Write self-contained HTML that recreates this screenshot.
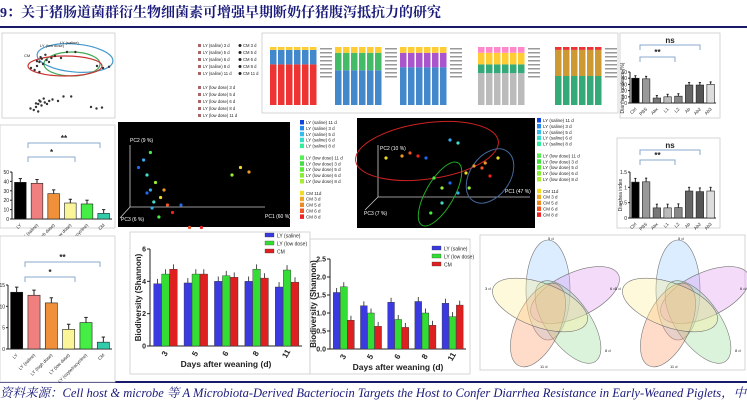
<!DOCTYPE html>
<html><head><meta charset="utf-8"><style>
body{margin:0;background:#fff;width:747px;height:405px;overflow:hidden;font-family:"Liberation Sans","Noto Sans CJK SC",sans-serif}
svg{display:block}
</style></head><body>
<svg id="s" width="747" height="405" viewBox="0 0 747 405" xmlns="http://www.w3.org/2000/svg">
<text x="0" y="17" font-family="'Liberation Serif','Noto Serif CJK SC',serif" font-weight="bold" font-size="14" fill="#1a1a7a">9：关于猪肠道菌群衍生物细菌素可增强早期断奶仔猪腹泻抵抗力的研究</text>
<rect x="0" y="26" width="747" height="2" fill="#1a1a6a"/>
<rect x="0" y="381" width="747" height="2" fill="#1a1a6a"/>
<text x="0" y="397" font-family="'Liberation Serif','Noto Serif CJK SC',serif" font-style="italic" font-size="12.5" fill="#1a1a7a">资料来源：Cell host &amp; microbe 等 A Microbiota-Derived Bacteriocin Targets the Host to Confer Diarrhea Resistance in Early-Weaned Piglets，中</text>
<g id="panels"></g>
</svg>
<script>
// ---- data ----
const days=['3','5','6','8','11'];
const shannonA_saline=[3.85,3.9,4.0,4.0,3.65];
const shannonA_low=[4.45,4.45,4.35,4.75,4.7];
const shannonA_cm=[4.75,4.45,4.25,4.2,3.95];
const shannonA_ticks=[0,2,4,6];
const shannonB_saline=[1.57,1.2,1.3,1.32,1.27];
const shannonB_low=[1.73,1.0,0.82,1.0,0.9];
const shannonB_cm=[0.8,0.63,0.6,0.66,1.22];
const shannonB_ticks=['0.0','0.5','1.0','1.5','2.0','2.5'];
const groupMid=['LY','LY (saline)','LY (high dose)','LY (low dose)','LY (oxytetracycline)','CM'];
const barsMid=[39,38,27,17,16,6];
const barsMidTicks=[0,10,20,30,40,50];
const barsBot=[13.3,12.6,10.8,4.6,6.2,1.6];
const barsBotTicks=[0,5,10,15];
const groupDi=['Ctrl','PBS','Abx','L1','L2','Ab','Ab2','Ab3'];
const incidence=[40,39,8,10,11,29,29,30];
const incidenceTicks=[0,10,20,30,40,50];
const diIndex=[1.17,1.18,0.33,0.33,0.34,0.88,0.86,0.88];
const diIndexTicks=[0,0.5,1.0,1.5];
const pcaX=[0.05,0.08,0.1,0.12,0.15,0.18,0.2,0.22,0.25,0.3,0.12,0.14,0.17,0.6,0.65,0.7,0.35,0.42,0.1,0.13];
const pcaY=[0.45,0.5,0.4,0.55,0.35,0.25,0.3,0.2,0.15,0.2,0.3,0.22,0.12,0.4,0.45,0.42,0.05,0.05,0.28,0.18];
const pca2X=[0.1,0.2,0.25,0.3,0.35,0.5,0.55,0.4,0.45,0.6,0.65,0.7,0.75,0.5,0.55,0.45,0.38,0.62,0.8,0.72];
const pca2Y=[0.7,0.72,0.75,0.72,0.7,0.88,0.85,0.5,0.4,0.55,0.62,0.6,0.52,0.45,0.35,0.25,0.15,0.4,0.7,0.65];

const NS='http://www.w3.org/2000/svg';
const root=document.getElementById('panels');
function el(t,a,p){const e=document.createElementNS(NS,t);for(const k in a)e.setAttribute(k,a[k]);(p||root).appendChild(e);return e;}
function tx(x,y,s,size,a,p){const e=el('text',Object.assign({x:x,y:y,'font-size':size,fill:'#222'},a||{}),p);e.textContent=s;return e;}
function box(x,y,w,h,name){const r=el('rect',{x:x,y:y,width:w,height:h,fill:'#fff',stroke:'#ccc','stroke-width':0.8});return r;}

// ---- grouped shannon chart ----
function grouped(x0,x1,yTop,yBase,max,ticks,series,cols,name,ylabX){
  const g=el('g',{});
  const ys=v=>yBase-(v/max)*(yBase-yTop);
  el('line',{x1:x0,y1:yTop,x2:x0,y2:yBase,stroke:'#222','stroke-width':1},g);
  el('line',{x1:x0,y1:yBase,x2:x1,y2:yBase,stroke:'#222','stroke-width':1},g);
  ticks.forEach(t=>{const v=parseFloat(t);el('line',{x1:x0-3,y1:ys(v),x2:x0,y2:ys(v),stroke:'#222'},g);
    const l=tx(x0-4,ys(v)+2.5,String(t),7,{'text-anchor':'end','font-weight':'bold'},g);});
  const gw=(x1-x0)/days.length, bw=gw/4;
  days.forEach((d,i)=>{
    series.forEach((s,j)=>{const bx=x0+i*gw+gw*0.12+j*bw*1.05;const y=ys(s[i]);
      const b=el('rect',{x:bx,y:y,width:bw,height:yBase-y,fill:cols[j],stroke:'#333','stroke-width':0.4},g);
      
      el('line',{x1:bx+bw/2,y1:y,x2:bx+bw/2,y2:y-(yBase-yTop)*0.05,stroke:'#222','stroke-width':0.8},g);});
    const cx=x0+i*gw+gw*0.5;
    const l=tx(cx,yBase+10,d,8,{'text-anchor':'middle','font-weight':'bold',transform:`rotate(-60 ${cx} ${yBase+8})`},g);
    
  });
  const yl=tx(ylabX,(yTop+yBase)/2,'Biodiversity (Shannon)',8,{'text-anchor':'middle','font-weight':'bold',transform:`rotate(-90 ${ylabX} ${(yTop+yBase)/2})`},g);
  
  const xl=tx((x0+x1)/2,yBase+21,'Days after weaning (d)',8.5,{'text-anchor':'middle','font-weight':'bold'},g);
  
}
const C3=['#3a3ae0','#33dd33','#e02020'];
box(130,232,180,142,'shannon-panel-a');
grouped(150,302,249,346,6,shannonA_ticks,[shannonA_saline,shannonA_low,shannonA_cm],C3,'shannon-chart-a',141);
box(310,239,160,135,'shannon-panel-b');
grouped(330,466,259,349,2.5,shannonB_ticks,[shannonB_saline,shannonB_low,shannonB_cm],C3,'shannon-chart-b',316);
function legend(x,y,labels,cols,name){const g=el('g',{});
  labels.forEach((l,i)=>{el('rect',{x:x,y:y+i*8,width:9,height:4,fill:cols[i],stroke:'#333','stroke-width':0.3},g);
    const t=tx(x+12,y+i*8+4.5,l,5,{},g);});}
legend(265,233,['LY (saline)','LY (low dose)','CM'],C3,'shannon-legend-a');
legend(432,246,['LY (saline)','LY (low dose)','CM'],C3,'shannon-legend-b');

// ---- simple bar chart ----
function simple(x0,x1,yTop,yBase,max,ticks,vals,cols,name,labels,bracket){
  const g=el('g',{});
  const ys=v=>yBase-(v/max)*(yBase-yTop);
  el('line',{x1:x0,y1:yTop,x2:x0,y2:yBase,stroke:'#222'},g);
  el('line',{x1:x0,y1:yBase,x2:x1,y2:yBase,stroke:'#222'},g);
  ticks.forEach(t=>{el('line',{x1:x0-2,y1:ys(t),x2:x0,y2:ys(t),stroke:'#222'},g);
    const l=tx(x0-3,ys(t)+2,String(t),5,{'text-anchor':'end'},g);});
  const gw=(x1-x0)/vals.length;
  vals.forEach((v,i)=>{const bx=x0+i*gw+gw*0.15,y=ys(v);
    const b=el('rect',{x:bx,y:y,width:gw*0.7,height:yBase-y,fill:cols[i],stroke:'#222','stroke-width':0.6},g);
    
    el('line',{x1:bx+gw*0.35,y1:y,x2:bx+gw*0.35,y2:y-(yBase-yTop)*0.08,stroke:'#222'},g);
    el('line',{x1:bx+gw*0.25,y1:y-(yBase-yTop)*0.08,x2:bx+gw*0.45,y2:y-(yBase-yTop)*0.08,stroke:'#222'},g);
    const cx=bx+gw*0.35;const t=tx(cx,yBase+7,labels[i],4.5,{'text-anchor':'end',transform:`rotate(-45 ${cx} ${yBase+5})`},g);
    });
  if(bracket){bracket.forEach(b=>{el('path',{d:`M${b[0]} ${b[3]+5} V${b[3]} H${b[1]} V${b[3]+5}`,fill:'none',stroke:'#88aacc','stroke-width':1},g);
    tx((b[0]+b[1])/2,b[3]-2,b[2],8,{'text-anchor':'middle','font-weight':'bold'},g);});}
}
const C6=['#000','#f08080','#f0903a','#fbf59a','#44ee44','#33ccaa'];
box(0,125,115,103,'protection-panel');
simple(12,112,172,219,50,barsMidTicks,barsMid,C6,'protection-bars',groupMid,[[28,100,'**',143],[28,75,'*',157]]);
box(0,236,115,146,'protection-panel-2');
simple(8,112,285,349,15,barsBotTicks,barsBot,C6,'protection-bars-2',groupMid,[[25,100,'**',262],[25,75,'*',277]]);
const C8=['#000','#999','#777','#bbb','#888','#666','#555','#ddd'];
box(620,33,100,85,'incidence-panel');
simple(630,716,72,103,50,incidenceTicks,incidence,C8,'diarrhea-incidence-bars',groupDi,[[640,700,'ns',45],[640,675,'**',57]]);
tx(624,88,'Diarrhea incidence (%)',5,{'text-anchor':'middle',transform:'rotate(-90 624 88)'});
box(617,138,103,90,'diarrhea-index-panel');
simple(630,716,172,218,1.5,diIndexTicks,diIndex,C8,'diarrhea-index-bars',groupDi,[[640,700,'ns',150],[640,675,'**',160]]);
tx(622,195,'Diarrhea index',5,{'text-anchor':'middle',transform:'rotate(-90 622 195)'});

// ---- black PCA panels ----
const pcaCols=['#2266ee','#33aaee','#44ddcc','#44ee44','#99ee33','#eedd22','#ee9922','#ee5522','#ee2222'];
el('rect',{x:118,y:122,width:172,height:105,fill:'#000'});
el('path',{d:'M130 145 V207 H265 M130 207 L120 218',stroke:'#ccc',fill:'none','stroke-width':0.8});
tx(130,142,'PC2 (9 %)',5,{fill:'#fff'});tx(265,218,'PC1 (60 %)',5,{fill:'#fff'});tx(121,221,'PC3 (6 %)',5,{fill:'#fff'});
pcaX.forEach((x,i)=>{const c=el('circle',{cx:130+x*170,cy:205-pcaY[i]*150+30,r:1.6,fill:pcaCols[i%9]});});
el('rect',{x:357,y:118,width:178,height:110,fill:'#000'});
el('path',{d:'M378 145 V197 H530 M378 197 L365 210',stroke:'#ccc',fill:'none','stroke-width':0.8});
tx(380,150,'PC2 (10 %)',5,{fill:'#fff'});tx(505,193,'PC1 (47 %)',5,{fill:'#fff'});tx(364,215,'PC3 (7 %)',5,{fill:'#fff'});
el('ellipse',{cx:427,cy:151,rx:72,ry:28,fill:'none',stroke:'#c22',transform:'rotate(-8 427 151)'});
el('ellipse',{cx:440,cy:194,rx:14,ry:36,fill:'none',stroke:'#2a2',transform:'rotate(30 440 194)'});
el('ellipse',{cx:490,cy:176,rx:20,ry:30,fill:'none',stroke:'#469',transform:'rotate(35 490 176)'});
pca2X.forEach((x,i)=>{const c=el('circle',{cx:370+x*160,cy:228-pca2Y[i]*100,r:1.6,fill:pcaCols[(i+5)%9]});});
const legLabels=['LY (saline) 11 d','LY (saline) 3 d','LY (saline) 5 d','LY (saline) 6 d','LY (saline) 8 d','','LY (low dose) 11 d','LY (low dose) 3 d','LY (low dose) 5 d','LY (low dose) 6 d','LY (low dose) 8 d','','CM 11d','CM 3 d','CM 5 d','CM 6 d','CM 8 d'];
const legCols=['#1144dd','#2288ee','#33bbee','#33ddcc','#33ee99','','#55ee55','#44dd44','#55ee33','#88ee33','#aaee33','','#eedd22','#eeaa22','#ee8822','#ee5522','#ee2222'];
[[300,120],[537,118]].forEach(p=>{legLabels.forEach((l,i)=>{if(!l)return;el('rect',{x:p[0],y:p[1]+i*5.9,width:4,height:4.5,fill:legCols[i]});
  const t=tx(p[0]+6,p[1]+i*5.9+4,l,4.5);});});

// ---- top PCA panel ----
box(2,33,113,85,'pca-2d-panel');
el('ellipse',{cx:75,cy:58,rx:38,ry:14,fill:'none',stroke:'#4499cc','stroke-width':1.2,transform:'rotate(5 75 58)'});
el('ellipse',{cx:72,cy:64,rx:28,ry:12,fill:'none',stroke:'#44aa55','stroke-width':1.2});
el('ellipse',{cx:65,cy:66,rx:37,ry:10,fill:'none',stroke:'#cc3333','stroke-width':1.2});
pcaX.forEach((x,i)=>{el('circle',{cx:25+x*120,cy:50+pcaY[i]*40,r:1.2,fill:'#333'});el('circle',{cx:25+x*110,cy:95+pcaY[i]*30,r:1.2,fill:'#333'});});
tx(60,44,'LY (saline)',4,{});tx(40,47,'LY (low dose)',4,{});tx(24,57,'CM',4,{});
const topLeg=['LY (saline) 3 d','LY (saline) 5 d','LY (saline) 6 d','LY (saline) 8 d','LY (saline) 11 d','','LY (low dose) 3 d','LY (low dose) 5 d','LY (low dose) 6 d','LY (low dose) 8 d','LY (low dose) 11 d'];
topLeg.forEach((l,i)=>{if(!l)return;el('rect',{x:198,y:44+i*7,width:3,height:3,fill:'#a66'});tx(203,47+i*7,l,4.2);});
['CM 3 d','CM 5 d','CM 6 d','CM 8 d','CM 11 d'].forEach((l,i)=>{el('circle',{cx:240,cy:45.5+i*7,r:1.5,fill:'#222'});tx(243,47+i*7,l,4.2);});

// ---- stacked bars panel ----
box(262,33,356,80,'composition-panel');
const stackSets=[[['#e33','#48c','#fc3'],[0.7,0.25,0.05]],[['#48c','#4b6','#fc3'],[0.6,0.3,0.1]],[['#48c','#a5c','#fc3'],[0.65,0.25,0.1]],[['#bbb','#3a7','#fc3','#f8c'],[0.55,0.15,0.2,0.1]],[['#3a7','#c93','#e33'],[0.5,0.45,0.05]]];
[270,335,400,478,555].forEach((x0,k)=>{const [cols,fr]=stackSets[k];for(let b=0;b<6;b++){let y=105;fr.forEach((f,j)=>{const h=f*58;y-=h;el('rect',{x:x0+b*8,y:y,width:6.5,height:h,fill:cols[j]});});}
  for(let j=0;j<8;j++)el('rect',{x:x0+50,y:48+j*4,width:12,height:1.5,fill:'#999'});});

// ---- venn ----
box(480,235,265,135,'venn-panel');
function petal(cx,cy,rx,ry,rot,fill){el('ellipse',{cx:cx,cy:cy,rx:rx,ry:ry,fill:fill,'fill-opacity':0.35,stroke:'#777','stroke-width':0.6,transform:`rotate(${rot} ${cx} ${cy})`});}
[[0],[135]].forEach((o,k)=>{const dx=k*130;
  petal(548+dx,290,22,50,0,'#9cf');petal(575+dx,295,22,48,65,'#d9e');petal(568+dx,322,22,48,-35,'#9d9');
  petal(538+dx,325,22,45,25,'#f96');petal(540+dx,305,22,50,-70,'#fe9');
  tx(548+dx,240,'5 d',4);tx(610+dx,290,'6 d',4);tx(485+dx,290,'3 d',4);tx(540+dx,368,'11 d',4);tx(605+dx,352,'8 d',4);});
</script>
</body></html>
